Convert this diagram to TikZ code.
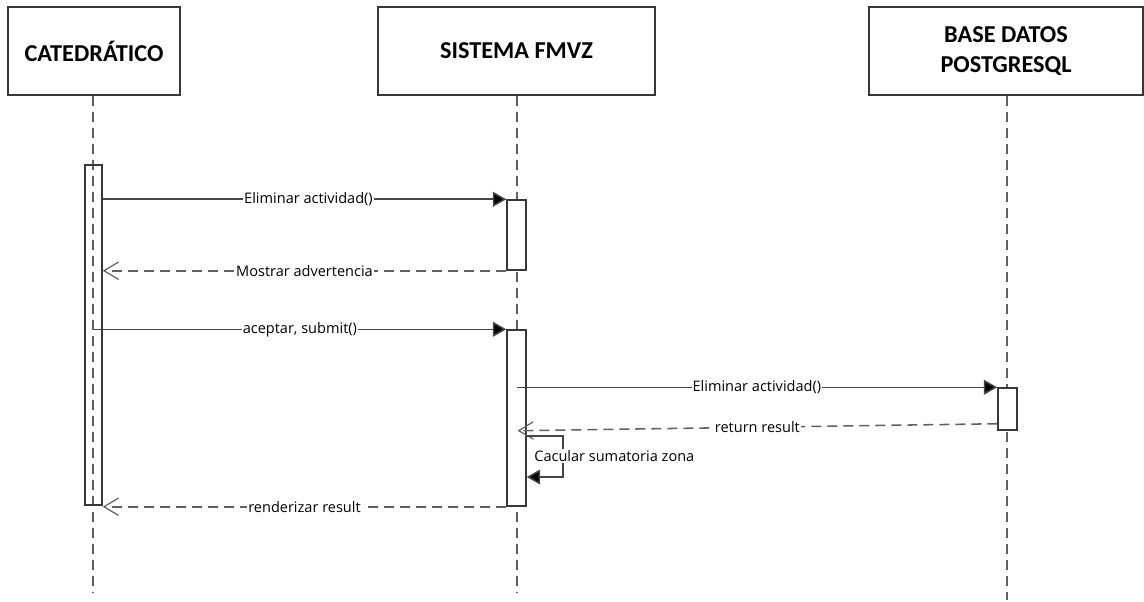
\documentclass[tikz,border=0pt]{standalone}
\usepackage{fontspec}
\setmainfont{Open Sans}
\newfontfamily\titlefont{Carlito}
\usetikzlibrary{arrows.meta}
\definecolor{edge}{HTML}{383838}
\definecolor{msg}{HTML}{454545}
\definecolor{dash}{HTML}{606060}
\tikzset{
  actorbox/.style={draw=edge, line width=1.2pt, fill=white, align=center,
    font=\titlefont\bfseries\fontsize{18.2}{22.5}\selectfont, inner sep=0pt},
  lifeline/.style={draw=dash, line width=1.3pt, dash pattern=on 7.5pt off 4.5pt},
  activation/.style={draw=edge, line width=1.1pt, inner sep=0pt, minimum width=13.5pt},
  call/.style={draw=msg, line width=1.15pt, -{Triangle[length=10pt,width=11pt,fill=black]}},
  reply/.style={draw=dash, line width=1.15pt, dash pattern=on 7.5pt off 4.5pt,
    -{Straight Barb[length=11pt,width=13pt,line width=0.9pt]}},
  msglabel/.style={fill=white, inner sep=0.8pt, font=\fontsize{10.9}{12}\selectfont, text=black}
}
\begin{document}
\begin{tikzpicture}[x=0.75pt, y=-0.75pt]
\useasboundingbox (0,0) rectangle (1144,602);

% participants
\node[actorbox, minimum width=129pt, minimum height=66pt] (cat) at (94,51) {CATEDRÁTICO};
\node[actorbox, minimum width=207.75pt, minimum height=66pt] (sis) at (516.5,51) {SISTEMA FMVZ};
\node[actorbox, minimum width=205.5pt, minimum height=66pt] (db) at (1006,51) {BASE DATOS\\POSTGRESQL};

% lifelines
\coordinate (catEnd) at (93,593);
\coordinate (sisEnd) at (517,593);
\coordinate (dbEnd) at (1007,600);
\draw[lifeline] (cat.south -| catEnd) -- (catEnd);
\draw[lifeline] (sis.south -| sisEnd) -- (sisEnd);
\draw[lifeline] (db.south -| dbEnd) -- (dbEnd);

% activation bars
\node[activation, minimum width=12.75pt, minimum height=255pt] (bar1) at (93.5,335) {};
\node[activation, fill=white, minimum width=14.25pt, minimum height=52.5pt] (bar2a) at (516.5,235) {};
\node[activation, fill=white, minimum width=14.25pt, minimum height=132pt] (bar2b) at (516.5,418) {};
\node[activation, fill=white, minimum width=14.25pt, minimum height=31.5pt] (bar3) at (1007.5,409) {};

% messages
\draw[call] (bar1.east |- bar2a.north west) -- node[msglabel, xshift=3pt] {Eliminar actividad()} (bar2a.north west);
\draw[reply] (bar2a.south west) -- node[msglabel] {Mostrar advertencia} (bar1.east |- bar2a.south west);
\draw[call] (bar1.center |- bar2b.north west) -- node[msglabel] {aceptar, submit()} (bar2b.north west);
\draw[call] (bar2b.center |- bar3.north west) -- node[msglabel] {Eliminar actividad()} (bar3.north west);
\draw[reply] ([yshift=5.25pt]bar3.south west) -- node[msglabel] {return result} ([xshift=0.75pt]bar2b.center |- bar3.south west);

% self call
\coordinate (s1) at (563,436);
\coordinate (s2) at (563,477);
\draw[call] (bar2b.east |- s1) -- (s1) -- (s2) -- (bar2b.east |- s2);
\node[msglabel, anchor=west] (selflbl) at (533,456) {Cacular sumatoria zona};

\draw[reply] (bar2b.south west) -- node[msglabel] {renderizar result} (bar1.east |- bar2b.south west);
\end{tikzpicture}
\end{document}
